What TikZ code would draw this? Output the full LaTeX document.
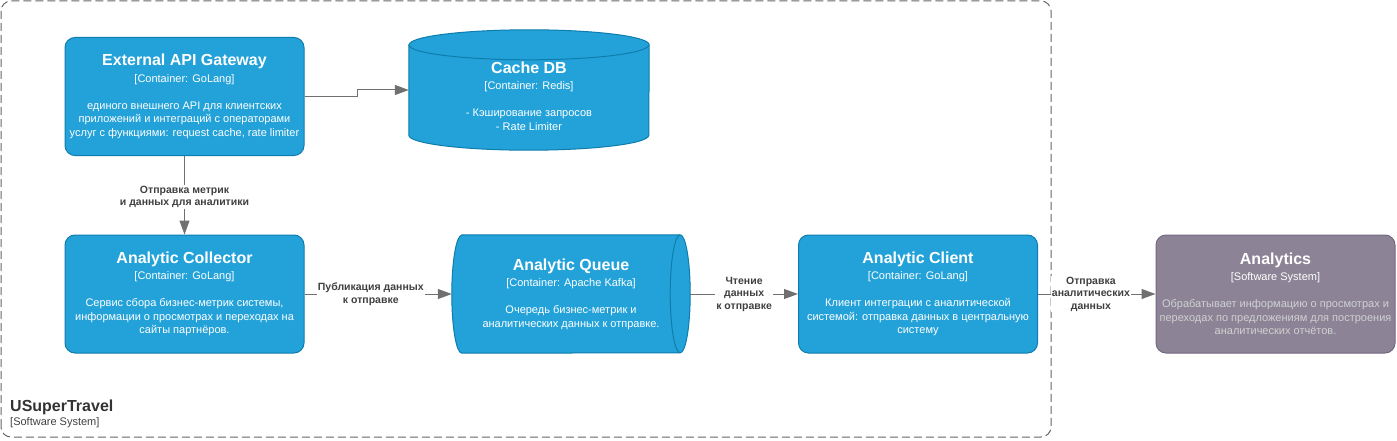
\documentclass[tikz,border=0pt]{standalone}
\usepackage{fontspec}
\setmainfont{Liberation Sans}
\usepackage{xcolor}
\usetikzlibrary{arrows.meta,backgrounds}

\definecolor{contfill}{HTML}{23A2D9}
\definecolor{contline}{HTML}{0E7DAD}
\definecolor{extfill}{HTML}{8C8496}
\definecolor{extline}{HTML}{736782}
\definecolor{exttext}{HTML}{D0D0D0}
\definecolor{linkgray}{HTML}{707070}
\definecolor{labelgray}{HTML}{404040}
\definecolor{boundgray}{HTML}{666666}

\newcommand{\ctitle}[1]{{\color{white}\fontsize{16}{14}\selectfont\bfseries #1}}
\newcommand{\ctype}[1]{{\color{white}#1}}

\begin{document}
\begin{tikzpicture}[x=1pt,y=1pt,
    container/.style={draw=contline, fill=contfill, line width=1pt, rounded corners=10pt,
        minimum width=239pt, minimum height=118pt, inner sep=0pt, text=white,
        align=center, font=\fontsize{11}{13.5}\selectfont},
    external/.style={container, draw=extline, fill=extfill, text=exttext},
    dbbox/.style={minimum width=240pt, minimum height=120pt, inner sep=0pt, text=white,
        align=center, font=\fontsize{11}{13.5}\selectfont},
    dbshape/.style={draw=contline, fill=contfill, line width=1pt},
    link/.style={draw=linkgray, line width=1pt, -{Triangle[length=14pt,width=10pt]}},
    linklabel/.style={fill=white, text=labelgray, align=center, inner sep=1pt,
        font=\fontsize{10.5}{12.5}\selectfont\bfseries}]
    \useasboundingbox (0,0) rectangle (1397,440);

    % System boundary
    \draw[boundgray, line width=1pt, dash pattern=on 8pt off 4pt, rounded corners=10pt]
        (1,3) rectangle (1051,439);
    \node[anchor=base west, inner sep=0pt, text=black!80, font=\fontsize{16}{18}\selectfont\bfseries]
        (systitle) at (10,29) {USuperTravel};
    \node[anchor=base west, inner sep=0pt, text=black!75, font=\fontsize{11}{13}\selectfont]
        (systype) at (10,15) {[Software System]};

    % Containers
    \node[container] (gateway) at (184.5,343.5) {\ctitle{External API Gateway}\\[3pt]
        \ctype{[Container: GoLang]}\\[13.5pt]
        единого внешнего API для клиентских\\
        приложений и интеграций с операторами\\
        услуг с функциями: request cache, rate limiter};
    \node[container] (collector) at (184.5,146) {\ctitle{Analytic Collector}\\[3pt]
        \ctype{[Container: GoLang]}\\[13.5pt]
        Сервис сбора бизнес-метрик системы,\\
        информации о просмотрах и переходах на\\
        сайты партнёров.};
    \node[container] (client) at (918,146) {\ctitle{Analytic Client}\\[3pt]
        \ctype{[Container: GoLang]}\\[13.5pt]
        Клиент интеграции с аналитической\\
        системой: отправка данных в центральную\\
        систему};
    \node[external] (analytics) at (1275.5,146) {\ctitle{Analytics}\\[3pt]
        \ctype{[Software System]}\\[13.5pt]
        Обрабатывает информацию о просмотрах и\\
        переходах по предложениям для построения\\
        аналитических отчётов.};

    % Databases
    \node[dbbox] (cache) at (529,350) {};
    \node[dbbox, minimum height=0pt] (cachetext) at (529,344) {\ctitle{Cache DB}\\[3pt]
        [Container: Redis]\\[13.5pt]
        - Кэширование запросов\\
        - Rate Limiter};
    \node[dbbox, minimum width=238pt, minimum height=118pt] (queue) at (571,146)
        {\ctitle{Analytic Queue}\\[3pt]
        [Container: Apache Kafka]\\[13.5pt]
        Очередь бизнес-метрик и\\
        аналитических данных к отправке.};
    \begin{scope}[on background layer]
        \filldraw[dbshape] ([yshift=-15pt]cache.north west) -- ([yshift=15pt]cache.south west)
            arc[start angle=180, end angle=360, x radius=120pt, y radius=15pt]
            -- ([yshift=-15pt]cache.north east)
            arc[start angle=0, end angle=180, x radius=120pt, y radius=15pt] -- cycle;
        \draw[dbshape, fill=none] ([yshift=-15pt]cache.north west)
            arc[start angle=180, end angle=360, x radius=120pt, y radius=15pt];
        \filldraw[dbshape] ([xshift=10pt]queue.north west) -- ([xshift=-10pt]queue.north east)
            arc[start angle=90, end angle=-90, x radius=10pt, y radius=59pt]
            -- ([xshift=10pt]queue.south west)
            arc[start angle=270, end angle=90, x radius=10pt, y radius=59pt] -- cycle;
        \draw[dbshape, fill=none] ([xshift=-10pt]queue.north east)
            arc[start angle=90, end angle=270, x radius=10pt, y radius=59pt];
    \end{scope}

    % Relations
    \draw[link] (gateway.east) -- ++(53,0) |- (cache.west);
    \draw[link] (gateway) -- node[linklabel, pos=0.52] {Отправка метрик\\и данных для аналитики} (collector);
    \draw[link] (collector) -- node[linklabel, pos=0.45] {Публикация данных\\к отправке} (queue);
    \draw[link] (queue) -- node[linklabel] {Чтение\\данных\\к отправке} (client);
    \draw[link] (client) -- node[linklabel, pos=0.45] {Отправка\\аналитических\\данных} (analytics);
\end{tikzpicture}
\end{document}
